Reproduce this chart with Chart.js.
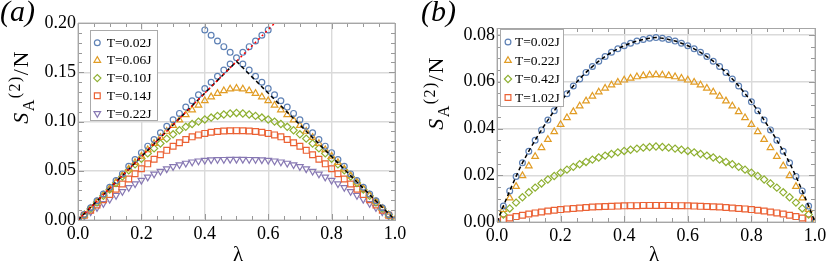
<!DOCTYPE html>
<html lang="en">
<head>
<meta charset="UTF-8">
<title>Renyi entropy vs lambda</title>
<script src="https://cdn.jsdelivr.net/npm/chart.js"></script>
<style>
  body { margin: 0; background: #fff; }
  #wrap { position: relative; width: 830px; height: 267px; }
  .panel { position: absolute; top: 0; }
  .lbl { position: absolute; white-space: nowrap; color: #000; font-family: 'Liberation Serif'; }
  .ytitle { transform: translate(-50%, -50%) rotate(-90deg); font-size: 22px; line-height: 22px; letter-spacing: 1.5px; }
  .ytitle sub, .ytitle sup { font-size: 16px; }
  .tag { font-style: italic; font-size: 30px; line-height: 30px; }
  .xt { font-size: 21px; line-height: 21px; transform: translateX(-50%); }
</style>
</head>
<body>
<div id="wrap">
  <div class="panel" style="left:0"><canvas id="chartA" width="415" height="267"></canvas></div>
  <div class="panel" style="left:415px"><canvas id="chartB" width="415" height="267"></canvas></div>

  <div class="lbl tag" style="left:0; top:-4px">(a)</div>
  <div class="lbl tag" style="left:421px; top:-4px">(b)</div>
  <div class="lbl ytitle" style="left:22px; top:87px"><i>S</i><sub>A</sub><sup>(2)</sup>/N</div>
  <div class="lbl ytitle" style="left:437px; top:93px"><i>S</i><sub>A</sub><sup>(2)</sup>/N</div>
  <div class="lbl xt" style="left:238px; top:244px">λ</div>
  <div class="lbl xt" style="left:654px; top:244px">λ</div>
</div>

<script>
// lambda grid shared by both panels
const lambda = [0, 0.02, 0.04, 0.06, 0.08, 0.10, 0.12, 0.14, 0.16, 0.18, 0.20, 0.22, 0.24, 0.26, 0.28, 0.30,
  0.32, 0.34, 0.36, 0.38, 0.40, 0.42, 0.44, 0.46, 0.48, 0.50, 0.52, 0.54, 0.56, 0.58, 0.60, 0.62, 0.64, 0.66,
  0.68, 0.70, 0.72, 0.74, 0.76, 0.78, 0.80, 0.82, 0.84, 0.86, 0.88, 0.90, 0.92, 0.94, 0.96, 0.98, 1.00];

// panel (a)
const labelsA = ['T=0.02J', 'T=0.06J', 'T=0.10J', 'T=0.14J', 'T=0.22J'];
const a002 = [0, .0057, .0125, .0196, .0264, .0332, .0400, .0468, .0546, .0614, .0684, .0750, .0818, .0886, .0952, .1018,
  .1082, .1146, .1210, .1272, .1335, .1398, .1460, .1522, .1584, .1646, .1584, .1522, .1460, .1398, .1335, .1272,
  .1210, .1146, .1082, .1018, .0952, .0886, .0818, .0750, .0684, .0614, .0546, .0468, .0400, .0332, .0264, .0196,
  .0125, .0057, 0];
// second (crossing) branch of T=0.02J
const a002xLambda = [0.40, 0.42, 0.44, 0.46, 0.48, 0.52, 0.54, 0.56, 0.58, 0.60];
const a002x = [.1930, .1876, .1818, .1760, .1702, .1702, .1760, .1818, .1876, .1930];
const a006 = [0, .0052, .0118, .0186, .0253, .0320, .0386, .0452, .0518, .0583, .0648, .0712, .0776, .0838, .0900, .0960,
  .1015, .1068, .1118, .1165, .1210, .1250, .1285, .1312, .1330, .1337, .1330, .1312, .1285, .1250, .1210, .1165,
  .1118, .1068, .1015, .0960, .0900, .0838, .0776, .0712, .0648, .0583, .0518, .0452, .0386, .0320, .0253, .0186,
  .0118, .0052, 0];
const a010 = [0, .0053, .0115, .0180, .0245, .0310, .0376, .0442, .0505, .0565, .0622, .0676, .0727, .0777, .0826, .0870,
  .0911, .0946, .0975, .0999, .1020, .1040, .1057, .1071, .1081, .1087, .1081, .1071, .1057, .1040, .1020, .0999,
  .0975, .0946, .0911, .0870, .0826, .0777, .0727, .0676, .0622, .0565, .0505, .0442, .0376, .0310, .0245, .0180,
  .0115, .0053, 0];
const a014 = [0, .0048, .0100, .0152, .0205, .0258, .0312, .0365, .0416, .0470, .0521, .0570, .0617, .0663, .0707, .0748,
  .0785, .0818, .0844, .0864, .0879, .0891, .0899, .0903, .0906, .0907, .0906, .0903, .0899, .0891, .0879, .0864,
  .0844, .0818, .0785, .0748, .0707, .0663, .0617, .0570, .0521, .0470, .0416, .0365, .0312, .0258, .0205, .0152,
  .0100, .0048, 0];
const a022 = [0, .0040, .0083, .0126, .0168, .0210, .0250, .0290, .0330, .0368, .0403, .0436, .0467, .0495, .0520, .0542,
  .0561, .0577, .0590, .0600, .0607, .0611, .0614, .0615, .0616, .0616, .0616, .0615, .0614, .0611, .0607, .0600,
  .0590, .0577, .0561, .0542, .0520, .0495, .0467, .0436, .0403, .0368, .0330, .0290, .0250, .0210, .0168, .0126,
  .0083, .0040, 0];
const blackLineA = { x: [0, 0.5, 1], y: [0, 0.161, 0] };
const redLineA = { x: [0, 0.621], y: [0, 0.2] };

// panel (b)
const labelsB = ['T=0.02J', 'T=0.22J', 'T=0.42J', 'T=1.02J'];
const b002 = [0, .0068, .0133, .0195, .0253, .0303, .0350, .0394, .0436, .0476, .0514, .0549, .0582, .0612, .0640, .0665,
  .0688, .0708, .0726, .0741, .0754, .0765, .0774, .0781, .0786, .0789, .0786, .0781, .0774, .0765, .0754, .0741,
  .0726, .0708, .0688, .0665, .0640, .0612, .0582, .0549, .0514, .0476, .0436, .0394, .0350, .0303, .0253, .0195,
  .0133, .0068, 0];
const b022 = [0, .0053, .0103, .0152, .0198, .0240, .0280, .0318, .0353, .0386, .0417, .0446, .0472, .0496, .0518, .0538,
  .0556, .0572, .0586, .0598, .0607, .0615, .0621, .0626, .0629, .0630, .0629, .0626, .0621, .0615, .0607, .0598,
  .0586, .0572, .0556, .0538, .0518, .0496, .0472, .0446, .0417, .0386, .0353, .0318, .0280, .0240, .0198, .0152,
  .0103, .0053, 0];
const b042 = [0, .0032, .0058, .0083, .0106, .0127, .0147, .0165, .0182, .0197, .0211, .0224, .0236, .0247, .0257, .0267,
  .0276, .0284, .0291, .0298, .0304, .0309, .0314, .0318, .0321, .0323, .0321, .0318, .0314, .0309, .0304, .0298,
  .0291, .0284, .0276, .0267, .0257, .0247, .0236, .0224, .0211, .0197, .0182, .0165, .0147, .0127, .0106, .0083,
  .0058, .0032, 0];
const b102 = [0, .0010, .0017, .0023, .0029, .0034, .0039, .0043, .0047, .0050, .0053, .0056, .0058, .0060, .0062, .0064,
  .0065, .0066, .0067, .0068, .0069, .0070, .0070, .0071, .0071, .0071, .0071, .0071, .0070, .0070, .0069, .0068,
  .0067, .0066, .0065, .0064, .0062, .0060, .0058, .0056, .0053, .0050, .0047, .0043, .0039, .0034, .0029, .0023,
  .0017, .0010, 0];

// tick labels
const xTicks = [0, 0.2, 0.4, 0.6, 0.8, 1.0];
const yTicksA = [0, 0.05, 0.10, 0.15, 0.20];
const yTicksB = [0, 0.02, 0.04, 0.06, 0.08];

// marker styles (Mathematica default palette)
const styles = {
  blue:   { color: '#5e81b5', pointStyle: 'circle',   radius: 2.9, rotation: 0 },
  orange: { color: '#e19c24', pointStyle: 'triangle', radius: 3.8, rotation: 0 },
  green:  { color: '#8fb032', pointStyle: 'rectRot',  radius: 3.6, rotation: 0 },
  red:    { color: '#eb6235', pointStyle: 'rect',     radius: 4.1, rotation: 0 },
  purple: { color: '#8778b3', pointStyle: 'triangle', radius: 3.8, rotation: 180 }
};

const serif = "'Liberation Serif'";

function pts(xs, ys) { return xs.map((x, i) => ({ x: x, y: ys[i] })); }

function markerSet(label, xs, ys, st) {
  return {
    label: label, data: pts(xs, ys), showLine: false, order: 2,
    pointStyle: st.pointStyle, pointRadius: st.radius, pointRotation: st.rotation,
    pointBorderColor: st.color, pointBackgroundColor: 'rgba(0,0,0,0)', pointBorderWidth: 1.2,
    pointHoverRadius: st.radius
  };
}

function lineSet(xs, ys, color, dash, smooth) {
  const ds = {
    label: '', data: pts(xs, ys), showLine: true, order: 0, borderColor: color, borderWidth: 1.5,
    borderDash: dash, pointRadius: 0, tension: 0, fill: false
  };
  if (smooth) ds.cubicInterpolationMode = 'monotone';
  return ds;
}

// frame, inside ticks and legend box
const framePlugin = {
  id: 'frame',
  afterDraw(chart, args, opts) {
    const { ctx, chartArea: a, scales } = chart;
    ctx.save();
    ctx.strokeStyle = '#999';
    ctx.lineWidth = 1;
    const tick = (x1, y1, x2, y2) => { ctx.beginPath(); ctx.moveTo(x1, y1); ctx.lineTo(x2, y2); ctx.stroke(); };
    for (let v = 0; v <= 1.0001; v += opts.minorX) {
      const x = Math.round(scales.x.getPixelForValue(v)) + 0.5;
      const major = Math.abs(v / 0.2 - Math.round(v / 0.2)) < 1e-6;
      const len = major ? 6 : 4;
      tick(x, a.bottom, x, a.bottom - len);
      tick(x, a.top, x, a.top + len);
    }
    for (let v = 0; v <= opts.yMax + 1e-9; v += opts.minorY) {
      const y = Math.round(scales.y.getPixelForValue(v)) + 0.5;
      const major = Math.abs(v / opts.majorY - Math.round(v / opts.majorY)) < 1e-6;
      const len = major ? 6 : 4;
      tick(a.left, y, a.left + len, y);
      tick(a.right, y, a.right - len, y);
    }
    ctx.strokeStyle = '#a6a6a6';
    ctx.strokeRect(Math.round(a.left) + 0.5, Math.round(a.top) + 0.5, Math.round(a.right - a.left), Math.round(a.bottom - a.top));

    // legend
    const L = opts.legend;
    ctx.fillStyle = '#fff';
    ctx.fillRect(L.x, L.y, L.w, L.h);
    ctx.strokeStyle = '#aaa';
    ctx.strokeRect(L.x + 0.5, L.y + 0.5, L.w, L.h);
    ctx.font = '13.5px ' + serif;
    ctx.textBaseline = 'middle';
    L.items.forEach((it, i) => {
      const y = L.y + L.first + i * L.step;
      const st = it.style;
      ctx.strokeStyle = st.color;
      ctx.fillStyle = 'rgba(0,0,0,0)';
      ctx.lineWidth = 1.2;
      Chart.helpers.drawPoint(ctx, { pointStyle: st.pointStyle, radius: st.radius, rotation: st.rotation, borderWidth: 1.2 }, L.x + L.mx, y);
      ctx.fillStyle = '#000';
      ctx.fillText(it.label, L.x + L.tx, y + 0.5);
    });
    ctx.restore();
  }
};

function baseOptions(yMax, yTicks, yWidth, xHeight, pad) {
  return {
    responsive: false,
    animation: false,
    layout: { padding: pad },
    plugins: { legend: { display: false }, tooltip: { enabled: false } },
    scales: {
      x: {
        type: 'linear', min: 0, max: 1,
        afterBuildTicks: s => { s.ticks = xTicks.map(v => ({ value: v })); },
        afterFit: s => { s.height = xHeight; },
        ticks: { padding: 3, color: '#000', font: { family: serif, size: 18 }, maxRotation: 0,
          callback: v => v.toFixed(1) },
        grid: { color: '#dadada', lineWidth: 1.4, drawTicks: false },
        border: { display: false }
      },
      y: {
        type: 'linear', min: 0, max: yMax,
        afterBuildTicks: s => { s.ticks = yTicks.map(v => ({ value: v })); },
        afterFit: s => { s.width = yWidth; },
        ticks: { padding: 2, color: '#000', font: { family: serif, size: 18 },
          callback: v => v.toFixed(2) },
        grid: { color: '#dadada', lineWidth: 1.4, drawTicks: false },
        border: { display: false }
      }
    }
  };
}

// chart (a)
const optsA = baseOptions(0.20, yTicksA, 78, 47, { top: 23, right: 20, left: 0, bottom: 0 });
optsA.plugins.frame = {
  minorX: 0.05, minorY: 0.01, majorY: 0.05, yMax: 0.20,
  legend: { x: 90, y: 30, w: 67, h: 90, first: 12.7, step: 17.7, mx: 7.3, tx: 16.7,
    items: [
      { label: labelsA[0], style: styles.blue }, { label: labelsA[1], style: styles.orange },
      { label: labelsA[2], style: styles.green }, { label: labelsA[3], style: styles.red },
      { label: labelsA[4], style: styles.purple }
    ] }
};
new Chart(document.getElementById('chartA'), {
  type: 'scatter',
  data: {
    datasets: [
      lineSet(redLineA.x, redLineA.y, '#ff0000', [2, 3]),
      lineSet(blackLineA.x, blackLineA.y, '#000', [4, 3]),
      markerSet(labelsA[0], lambda, a002, styles.blue),
      markerSet(labelsA[0], a002xLambda, a002x, styles.blue),
      markerSet(labelsA[1], lambda, a006, styles.orange),
      markerSet(labelsA[2], lambda, a010, styles.green),
      markerSet(labelsA[3], lambda, a014, styles.red),
      markerSet(labelsA[4], lambda, a022, styles.purple)
    ]
  },
  options: optsA,
  plugins: [framePlugin]
});

// chart (b)
const optsB = baseOptions(0.083, yTicksB, 82, 45, { top: 28, right: 15, left: 0, bottom: 0 });
optsB.plugins.frame = {
  minorX: 0.05, minorY: 0.005, majorY: 0.02, yMax: 0.083,
  legend: { x: 85, y: 29, w: 63, h: 77, first: 13, step: 18.5, mx: 8, tx: 15,
    items: [
      { label: labelsB[0], style: styles.blue }, { label: labelsB[1], style: styles.orange },
      { label: labelsB[2], style: styles.green }, { label: labelsB[3], style: styles.red }
    ] }
};
new Chart(document.getElementById('chartB'), {
  type: 'scatter',
  data: {
    datasets: [
      lineSet(lambda, b002, '#000', [4, 3], true),
      markerSet(labelsB[0], lambda, b002, styles.blue),
      markerSet(labelsB[1], lambda, b022, styles.orange),
      markerSet(labelsB[2], lambda, b042, styles.green),
      markerSet(labelsB[3], lambda, b102, styles.red)
    ]
  },
  options: optsB,
  plugins: [framePlugin]
});
</script>
</body>
</html>
